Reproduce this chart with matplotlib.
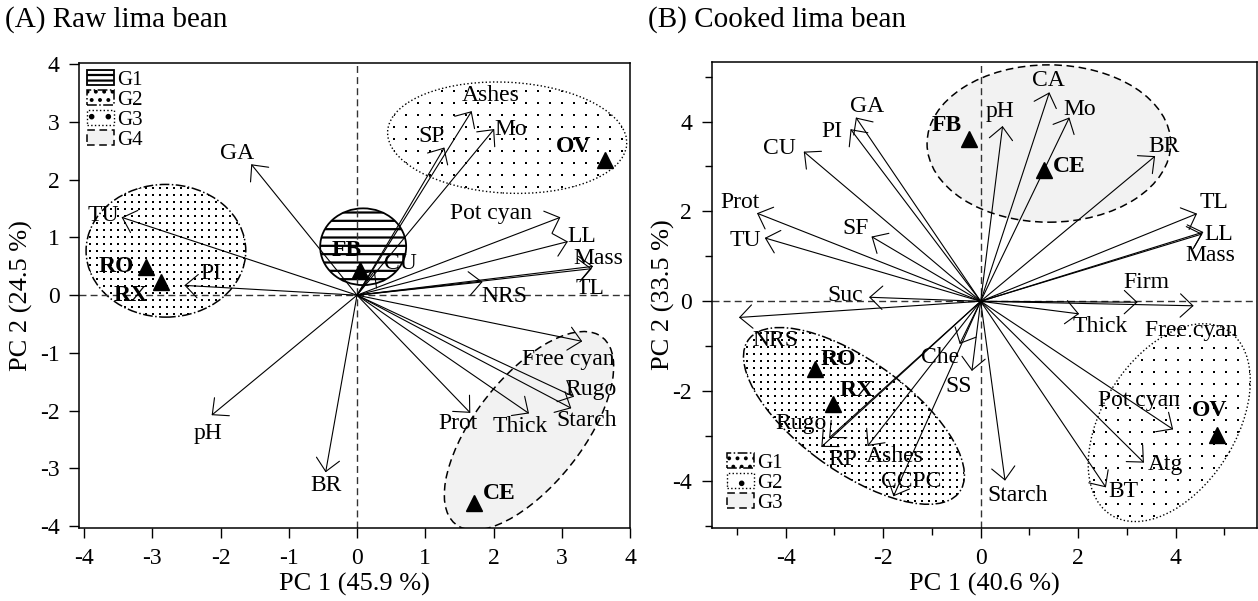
import numpy as np
import matplotlib
matplotlib.use('Agg')
import matplotlib.pyplot as plt
from matplotlib.patches import Ellipse, Patch

plt.rcParams['font.family'] = ['Liberation Serif', 'DejaVu Serif']
plt.rcParams['axes.unicode_minus'] = False
plt.rcParams['hatch.linewidth'] = 1.6

# ---------------- (A) raw lima bean ----------------
raw_var = ['TU', 'PI', 'GA', 'pH', 'BR', 'Prot', 'Thick', 'Starch', 'Rugo',
           'Free cyan', 'NRS', 'TL', 'Mass', 'LL', 'Pot cyan', 'Mo', 'Ashes',
           'SP', 'CU']
raw_var_x = [-3.45, -2.53, -1.55, -2.13, -0.46, 1.66, 2.52, 3.14, 3.18,
             3.30, 1.84, 3.44, 3.46, 3.09, 2.98, 2.01, 1.68, 1.28, 0.26]
raw_var_y = [1.35, 0.17, 2.27, -2.08, -3.07, -2.04, -2.05, -1.96, -1.76,
             -0.80, 0.23, 0.46, 0.50, 0.93, 1.35, 2.88, 3.19, 2.56, 0.43]
# label anchor points
raw_lab_x = [-3.72, -2.14, -1.76, -2.18, -0.46, 1.48, 2.39, 3.36, 3.43,
             3.10, 2.16, 3.42, 3.54, 3.30, 1.96, 2.25, 1.96, 1.09, 0.63]
raw_lab_y = [1.38, 0.38, 2.46, -2.40, -3.30, -2.22, -2.27, -2.17, -1.63,
             -1.12, -0.03, 0.12, 0.63, 1.01, 1.41, 2.88, 3.46, 2.75, 0.55]

raw_obs = ['FB', 'OV', 'RO', 'RX', 'CE']
raw_obs_x = [0.04, 3.64, -3.09, -2.87, 1.72]
raw_obs_y = [0.43, 2.34, 0.49, 0.23, -3.60]
raw_obs_lx = [-0.15, 3.18, -3.53, -3.31, 2.08]
raw_obs_ly = [0.78, 2.57, 0.49, 0.00, -3.43]

raw_groups = ['G1', 'G2', 'G3', 'G4']
raw_grp_style = ['hlines', 'dense', 'sparse', 'grey']
raw_grp_cx = [0.09, -2.80, 2.20, 2.52]
raw_grp_cy = [0.84, 0.77, 2.73, -2.35]
raw_grp_w = [1.26, 2.34, 3.51, 3.90]
raw_grp_h = [1.33, 2.30, 1.92, 1.67]
raw_grp_ang = [0, 0, -4, 58.6]

# ---------------- (B) cooked lima bean ----------------
ck_var = ['GA', 'PI', 'CU', 'Prot', 'TU', 'SF', 'Suc', 'NRS', 'pH', 'CA', 'Mo',
          'BR', 'TL', 'LL', 'Mass', 'Firm', 'Free cyan', 'Thick', 'Pot cyan',
          'Atg', 'BT', 'Starch', 'SS', 'Che', 'Rugo', 'RP', 'Ashes', 'CCPC']
ck_var_x = [-2.56, -2.67, -3.63, -4.59, -4.43, -2.24, -2.29, -4.96, 0.45, 1.41,
            1.82, 3.58, 4.44, 4.57, 4.55, 3.22, 4.37, 2.02, 3.95, 3.35, 2.57,
            0.50, -0.18, -0.43, -3.11, -3.27, -2.32, -1.79]
ck_var_y = [4.09, 3.83, 3.33, 1.96, 1.41, 1.44, 0.09, -0.36, 3.90, 4.65, 4.09,
            3.23, 1.95, 1.54, 1.50, -0.02, -0.10, -0.28, -2.85, -3.59, -4.14,
            -3.99, -1.55, -0.95, -3.04, -3.24, -3.22, -4.34]
ck_lab_x = [-2.33, -3.06, -4.12, -4.93, -4.82, -2.56, -2.79, -4.22, 0.40, 1.39,
            2.04, 3.76, 4.78, 4.88, 4.72, 3.41, 4.33, 2.45, 3.24, 3.80, 2.93,
            0.75, -0.46, -0.84, -3.68, -2.82, -1.76, -1.42]
ck_lab_y = [4.33, 3.77, 3.40, 2.20, 1.35, 1.62, 0.13, -0.88, 4.22, 4.91, 4.27,
            3.45, 2.19, 1.48, 1.02, 0.42, -0.64, -0.56, -2.20, -3.63, -4.24,
            -4.32, -1.90, -1.25, -2.72, -3.52, -3.46, -4.00]

ck_obs = ['FB', 'CE', 'RO', 'RX', 'OV']
ck_obs_x = [-0.23, 1.29, -3.40, -3.03, 4.85]
ck_obs_y = [3.60, 2.93, -1.51, -2.28, -2.98]
ck_obs_lx = [-0.70, 1.82, -2.92, -2.55, 4.69]
ck_obs_ly = [3.90, 2.99, -1.29, -1.98, -2.44]

ck_groups = ['G1', 'G2', 'G3']
ck_grp_style = ['dense', 'sparse', 'grey']
ck_grp_cx = [-2.60, 3.87, 1.40]
ck_grp_cy = [-2.55, -2.70, 3.51]
ck_grp_w = [5.5, 4.76, 5.0]
ck_grp_h = [2.4, 2.79, 3.5]
ck_grp_ang = [-39, 62, 0]


fig = plt.figure(figsize=(12.58, 6.01), dpi=100)
axA = fig.add_axes([0.0630, 0.121, 0.4378, 0.7747])
axB = fig.add_axes([0.5657, 0.121, 0.4335, 0.7763])
axA.set_xlim(-4.07, 4.0)
axA.set_ylim(-4.04, 4.03)
axB.set_xlim(-5.52, 5.67)
axB.set_ylim(-5.05, 5.33)


def dot_fill(ax, patch, step):
    # regular grid of dots (in pixels) clipped to the ellipse
    ext = patch.get_window_extent()
    gx, gy = np.meshgrid(np.arange(ext.x0 + step / 2, ext.x1, step),
                         np.arange(ext.y0 + step / 2, ext.y1, step))
    pts = ax.transData.inverted().transform(np.column_stack([gx.ravel(), gy.ravel()]))
    sc = ax.scatter(pts[:, 0], pts[:, 1], s=1.7, c='k', marker='s',
                    linewidths=0, zorder=1.2)
    sc.set_clip_path(patch)


def group_patch(kind):
    if kind == 'hlines':
        return dict(facecolor='white', edgecolor='k', lw=1.3, hatch='--')
    if kind == 'dense':
        return dict(facecolor='white', edgecolor='k', lw=1.1, ls='-.')
    if kind == 'sparse':
        return dict(facecolor='white', edgecolor='k', lw=1.0, ls=':')
    return dict(facecolor='#f2f2f2', edgecolor='k', lw=1.1, ls=(0, (5, 3)))


def draw_groups(ax, styles, cx, cy, w, h, ang):
    for k, x, y, ww, hh, a in zip(styles, cx, cy, w, h, ang):
        e = Ellipse((x, y), ww, hh, angle=a, zorder=1, **group_patch(k))
        ax.add_patch(e)
        if k == 'dense':
            dot_fill(ax, e, 7)
        elif k == 'sparse':
            dot_fill(ax, e, 12)


def legend_handles(styles):
    hs = []
    for k in styles:
        st = group_patch(k)
        if k == 'dense':
            st['hatch'] = '..'
        elif k == 'sparse':
            st['hatch'] = '.'
        elif k == 'hlines':
            st['hatch'] = '---'
        hs.append(Patch(**st))
    return hs


arrow_kw = dict(arrowstyle='->,head_length=0.45,head_width=0.42', lw=0.8,
                color='k', shrinkA=0, shrinkB=0, mutation_scale=20)


def biplot(ax, vx, vy, names, lx, ly, ox, oy, onames, olx, oly):
    ax.axhline(0, color='#333333', lw=1.0, dashes=(5, 3), zorder=1.5)
    ax.axvline(0, color='#333333', lw=1.0, dashes=(5, 3), zorder=1.5)
    for x, y in zip(vx, vy):
        ax.annotate('', xy=(x, y), xytext=(0, 0), arrowprops=arrow_kw, zorder=3)
    for n, x, y in zip(names, lx, ly):
        ax.text(x, y, n, ha='center', va='center', fontsize=17, zorder=5)
    ax.plot(ox, oy, '^', color='k', ms=11, ls='none', zorder=4)
    for n, x, y in zip(onames, olx, oly):
        ax.text(x, y, n, ha='center', va='center', fontsize=17,
                fontweight='bold', zorder=5)
    for s in ax.spines.values():
        s.set_linewidth(1.1)
    ax.tick_params(which='major', direction='out', length=7, width=1.0,
                   labelsize=17, pad=7)
    ax.tick_params(which='minor', direction='out', length=5, width=1.0)


draw_groups(axA, raw_grp_style, raw_grp_cx, raw_grp_cy, raw_grp_w, raw_grp_h, raw_grp_ang)
biplot(axA, raw_var_x, raw_var_y, raw_var, raw_lab_x, raw_lab_y,
       raw_obs_x, raw_obs_y, raw_obs, raw_obs_lx, raw_obs_ly)
axA.set_xticks(range(-4, 5))
axA.set_yticks(range(-4, 5))
axA.set_xlabel('PC 1 (45.9 %)', fontsize=19)
axA.set_ylabel('PC 2 (24.5 %)', fontsize=19)
axA.xaxis.set_label_coords(0.5, -0.095)
axA.yaxis.set_label_coords(-0.084, 0.5)
axA.legend(legend_handles(raw_grp_style), raw_groups, loc='upper left',
           frameon=False, fontsize=15, handlelength=1.3, handleheight=0.75,
           handletextpad=0.15, labelspacing=0.0, borderaxespad=0.2, borderpad=0.15)

draw_groups(axB, ck_grp_style, ck_grp_cx, ck_grp_cy, ck_grp_w, ck_grp_h, ck_grp_ang)
biplot(axB, ck_var_x, ck_var_y, ck_var, ck_lab_x, ck_lab_y,
       ck_obs_x, ck_obs_y, ck_obs, ck_obs_lx, ck_obs_ly)
axB.set_xticks([-4, -2, 0, 2, 4])
axB.set_xticks([-5, -3, -1, 1, 3, 5], minor=True)
axB.set_yticks([-4, -2, 0, 2, 4])
axB.set_yticks([-5, -3, -1, 1, 3, 5], minor=True)
axB.set_xlabel('PC 1 (40.6 %)', fontsize=19)
axB.set_ylabel('PC 2 (33.5 %)', fontsize=19)
axB.xaxis.set_label_coords(0.5, -0.095)
axB.yaxis.set_label_coords(-0.067, 0.5)
axB.legend(legend_handles(ck_grp_style), ck_groups, loc='lower left',
           frameon=False, fontsize=15, handlelength=1.3, handleheight=0.75,
           handletextpad=0.15, labelspacing=0.0, borderaxespad=0.6, borderpad=0.15)

fig.text(5 / 1258, 1 - 20 / 601, '(A) Raw lima bean', fontsize=21, va='center')
fig.text(648 / 1258, 1 - 20 / 601, '(B) Cooked lima bean', fontsize=21, va='center')

fig.savefig('out.png', dpi=100)
